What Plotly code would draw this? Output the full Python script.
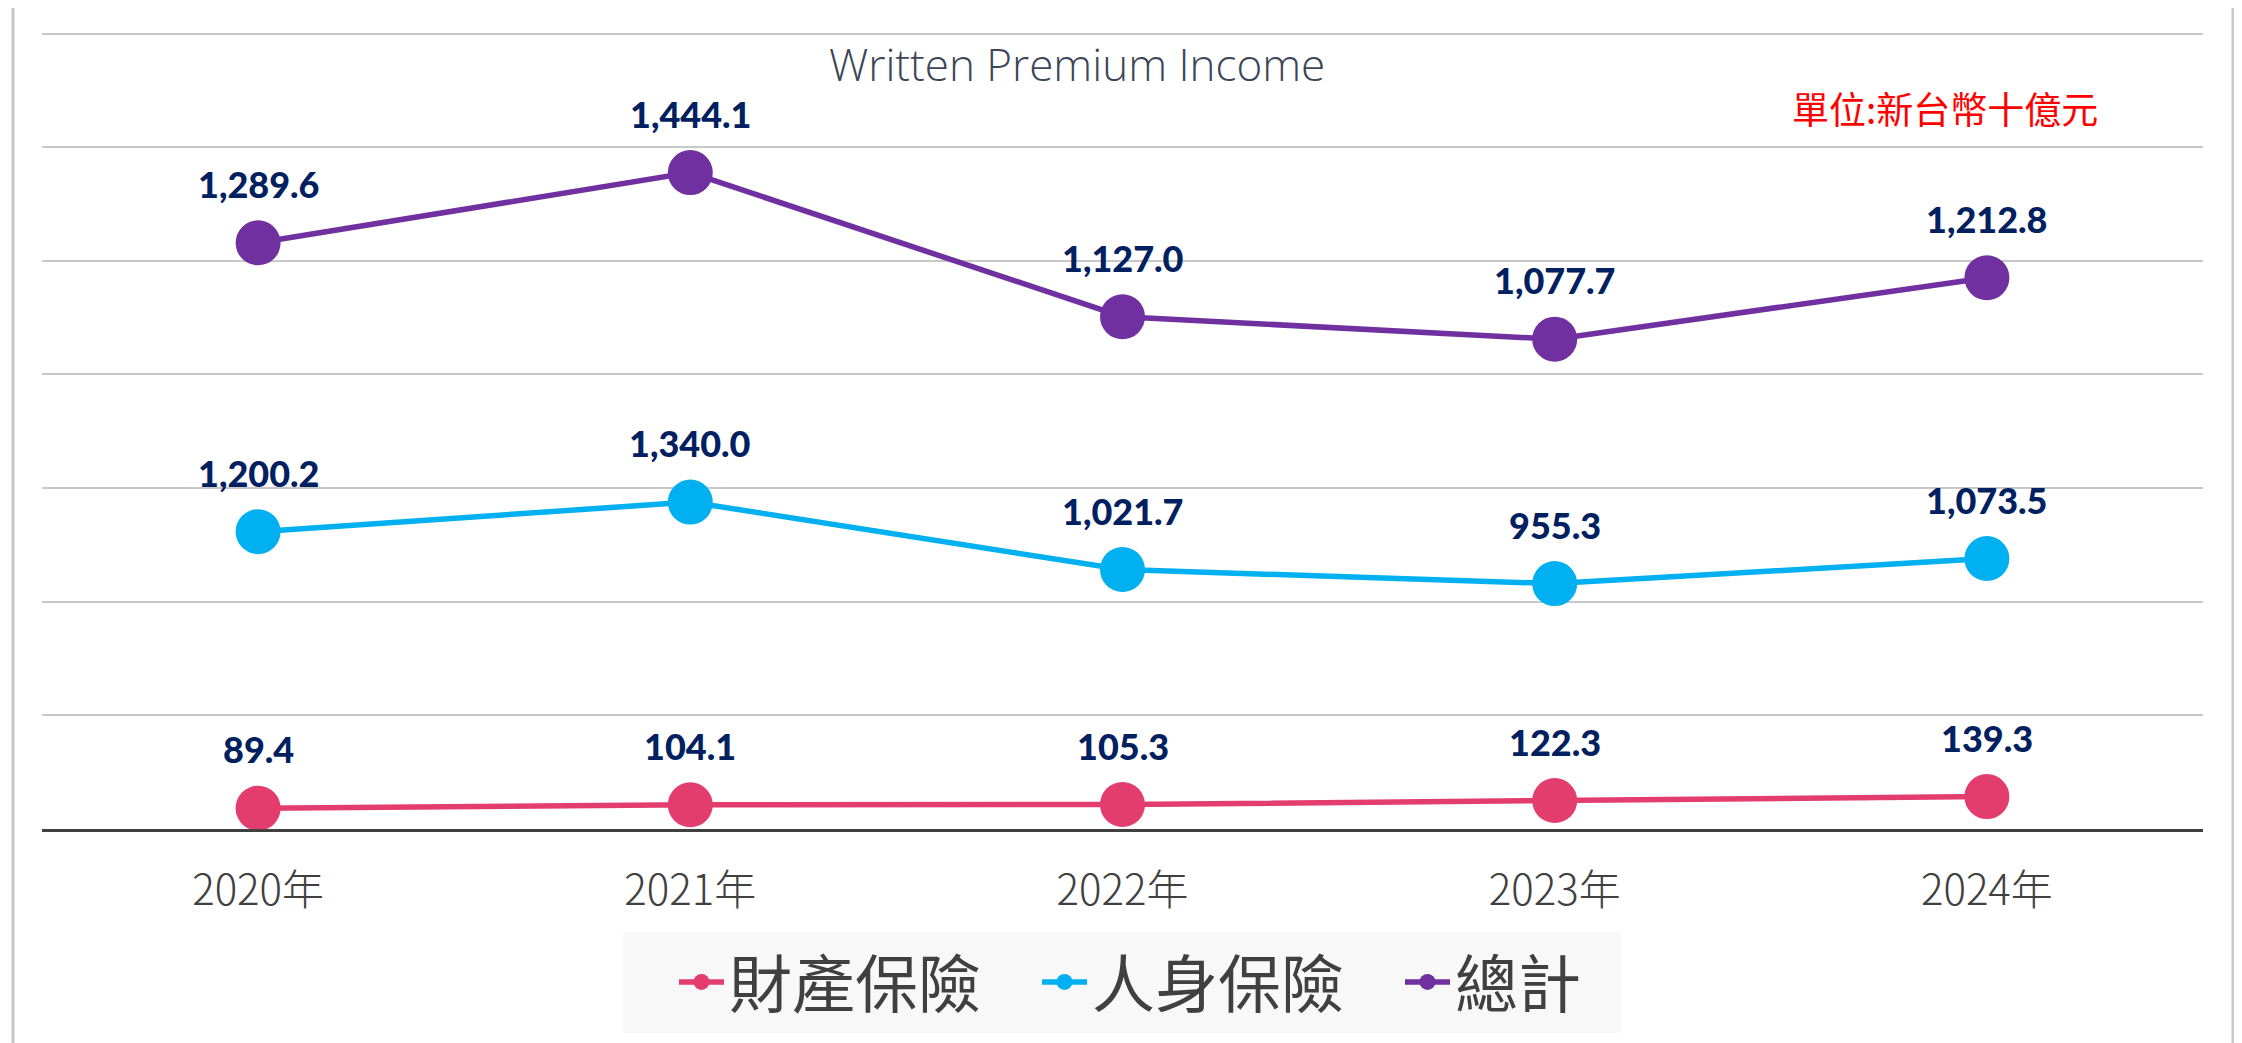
import plotly.graph_objects as go

# values (NT$ billion)
years = ["2020年", "2021年", "2022年", "2023年", "2024年"]
property_ins = [89.4, 104.1, 105.3, 122.3, 139.3]
life_ins = [1200.2, 1340.0, 1021.7, 955.3, 1073.5]
total = [1289.6, 1444.1, 1127.0, 1077.7, 1212.8]

names = ["財產保險", "人身保險", "總計"]
colors = ["#E33D6F", "#00B0F0", "#7030A0"]
title_text = "Written Premium Income"
unit_text = "單位:新台幣十億元"

# plot area on the page (page has an 8px body margin)
PL, PR, PT, PB = 42, 2203, 29, 829


def px(x):
    return (x - PL) / (PR - PL)


def py(y):
    return (PB - y) / (PB - PT)


series = [
    (names[0], property_ins, colors[0], "y3"),
    (names[1], life_ins, colors[1], "y2"),
    (names[2], total, colors[2], "y"),
]

fig = go.Figure()
for name, vals, col, ax in series:
    fig.add_trace(go.Scatter(
        x=years, y=vals, name=name, yaxis=ax, mode="lines+markers",
        line=dict(color=col, width=5.5),
        marker=dict(color=col, size=45),
        cliponaxis=False,
    ))

# data labels above each point
annos = []
for name, vals, col, ax in series:
    for yr, v in zip(years, vals):
        annos.append(dict(
            x=yr, y=v, xref="x", yref=ax, text=f"{v:,.1f}", showarrow=False,
            yshift=59, font=dict(family="Lato", size=36, color="#002060", weight=900),
        ))

annos.append(dict(
    x=px(1077), y=py(64), xref="paper", yref="paper", text=title_text, showarrow=False,
    xanchor="center", yanchor="middle",
    font=dict(family="Open Sans", size=44, color="#3C4657", weight=300),
))
annos.append(dict(
    x=px(1945), y=py(108), xref="paper", yref="paper", text=unit_text, showarrow=False,
    xanchor="center", yanchor="middle",
    font=dict(family="Noto Sans CJK TC", size=37, color="#FF0000"),
))

fig.update_layout(
    width=2234, height=1035,
    margin=dict(l=PL - 8, r=2234 - (PR - 8), t=PT - 8, b=1035 - (PB - 8)),
    paper_bgcolor="white", plot_bgcolor="white",
    showlegend=True,
    legend=dict(
        orientation="h", x=px(674), xanchor="left", y=py(982), yanchor="middle",
        bgcolor="rgba(0,0,0,0)", entrywidth=303, itemwidth=45,
        font=dict(family="Noto Sans CJK TC", size=63, color="#404040"),
        traceorder="normal",
    ),
    xaxis=dict(
        type="category", range=[-0.5, 4.5], showgrid=False,
        showline=True, linecolor="#404040", linewidth=3, ticks="",
        tickfont=dict(family="Noto Sans CJK TC", size=42, color="#404040", weight=300),
        ticklabelstandoff=23,
    ),
    yaxis=dict(
        range=[0, 1760], dtick=250, showgrid=True, gridcolor="#C8C8C8", gridwidth=1.5,
        zeroline=False, showticklabels=False,
    ),
    yaxis2=dict(range=[-203, 3573], overlaying="y", visible=False),
    yaxis3=dict(range=[0, 3441], overlaying="y", visible=False),
    annotations=annos,
    shapes=[
        # outer frame
        dict(type="rect", xref="paper", yref="paper", x0=px(13), x1=px(2233), y0=py(1080), y1=py(4),
             line=dict(color="#C8C8C8", width=3), layer="below"),
        # legend background box
        dict(type="rect", xref="paper", yref="paper", x0=px(623), x1=px(1621), y0=py(1033), y1=py(932),
             line=dict(width=0), fillcolor="#F8F8F8", layer="below"),
    ],
)

fig.write_html("out.html")
